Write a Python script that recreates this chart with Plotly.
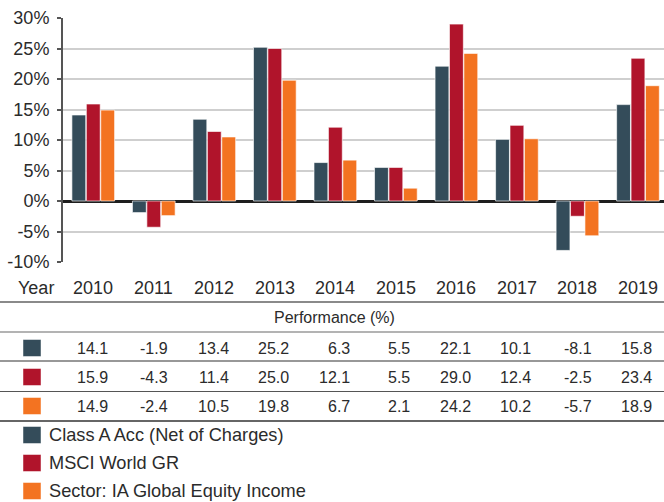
import plotly.graph_objects as go

years = ["2010", "2011", "2012", "2013", "2014", "2015", "2016", "2017", "2018", "2019"]
class_a = [14.1, -1.9, 13.4, 25.2, 6.3, 5.5, 22.1, 10.1, -8.1, 15.8]
msci = [15.9, -4.3, 11.4, 25.0, 12.1, 5.5, 29.0, 12.4, -2.5, 23.4]
sector = [14.9, -2.4, 10.5, 19.8, 6.7, 2.1, 24.2, 10.2, -5.7, 18.9]
series_names = ["Class A Acc (Net of Charges)", "MSCI World GR", "Sector: IA Global Equity Income"]
colors = ["#344c5a", "#b0142b", "#f37321"]
y_tickvals = [-10, -5, 0, 5, 10, 15, 20, 25, 30]
y_ticktext = ["-10%", "-5%", "0%", "5%", "10%", "15%", "20%", "25%", "30%"]

W, H = 664, 502
FONT = "Liberation Sans, Arial, sans-serif"
TXT = "#2b2b2b"


def py(px):
    return 1 - px / H


def pxx(px):
    return px / W


xs = list(range(len(years)))
fig = go.Figure()
for name, vals, col in zip(series_names, [class_a, msci, sector], colors):
    fig.add_trace(go.Bar(x=xs, y=vals, name=name, marker=dict(color=col, line=dict(color="rgba(255,255,255,0.8)", width=0.8)),
                         showlegend=False))

fig.update_layout(
    template="none",
    width=W, height=H, autosize=False,
    margin=dict(l=0, r=0, t=0, b=0, pad=0),
    paper_bgcolor="white", plot_bgcolor="white",
    showlegend=False,
    barmode="group", bargap=0.285, bargroupgap=0.04,
    font=dict(family=FONT, color=TXT),
    xaxis=dict(domain=[63 / W, 1], range=[-0.5, 9.43], showticklabels=False, showgrid=False,
               zeroline=False, showline=False, fixedrange=True, automargin=False, ticks=""),
    yaxis=dict(domain=[py(262), py(18)], range=[-10, 30], tickvals=y_tickvals, ticktext=y_ticktext,
               showgrid=True, gridcolor="#cfcfcf", gridwidth=1.5,
               zeroline=True, zerolinecolor="#1e1e1e", zerolinewidth=2.5,
               showline=True, linecolor="#555555", linewidth=2,
               ticks="outside", ticklen=4, tickcolor="#555555", tickwidth=1.5,
               ticklabelstandoff=4, automargin=False, fixedrange=True,
               tickfont=dict(size=18, color=TXT, family=FONT)),
)

ann = []
shapes = []
ann.append(dict(x=pxx(36), y=py(288), xref="paper", yref="paper", text="Year", showarrow=False,
                font=dict(size=18, color=TXT), xanchor="center", yanchor="middle"))
for i, yr in enumerate(years):
    ann.append(dict(x=i, y=py(288), xref="x", yref="paper", text=yr, showarrow=False,
                    font=dict(size=18, color=TXT), xanchor="center", yanchor="middle"))

ann.append(dict(x=pxx(335), y=py(317), xref="paper", yref="paper", text="Performance (%)", showarrow=False,
                font=dict(size=16, color=TXT), xanchor="center", yanchor="middle"))

row_y = [348, 377, 406]
for r, (vals, col) in enumerate(zip([class_a, msci, sector], colors)):
    for i, v in enumerate(vals):
        ann.append(dict(x=i + 0.27, y=py(row_y[r]), xref="x", yref="paper", text=f"{v:.1f}", showarrow=False,
                        font=dict(size=16, color=TXT), xanchor="right", yanchor="middle"))
    shapes.append(dict(type="rect", xref="paper", yref="paper", x0=pxx(23), x1=pxx(41),
                       y0=py(row_y[r] + 8.5), y1=py(row_y[r] - 8.5), fillcolor=col,
                       line=dict(color="rgba(255,255,255,0.6)", width=0.8)))

lines = [(302, "#8a8a8a", 2), (332, "#9a9a9a", 1.5), (361, "#333333", 1.2), (391.5, "#555555", 1.2), (421, "#333333", 1.5)]
for yy, c, w in lines:
    shapes.append(dict(type="line", xref="paper", yref="paper", x0=0, x1=1, y0=py(yy), y1=py(yy),
                       line=dict(color=c, width=w)))

leg_y = [435, 463, 491]
for name, col, yy in zip(series_names, colors, leg_y):
    shapes.append(dict(type="rect", xref="paper", yref="paper", x0=pxx(23), x1=pxx(41),
                       y0=py(yy + 8.5), y1=py(yy - 8.5), fillcolor=col,
                       line=dict(color="rgba(255,255,255,0.6)", width=0.8)))
    ann.append(dict(x=pxx(47), y=py(yy), xref="paper", yref="paper", text=name, showarrow=False,
                    font=dict(size=18.2, color=TXT), xanchor="left", yanchor="middle"))

fig.update_layout(annotations=ann, shapes=shapes)
fig.write_html("out.html", config={"responsive": False, "displayModeBar": False},
               post_script="document.body.style.margin='0';document.body.style.overflow='hidden';")
